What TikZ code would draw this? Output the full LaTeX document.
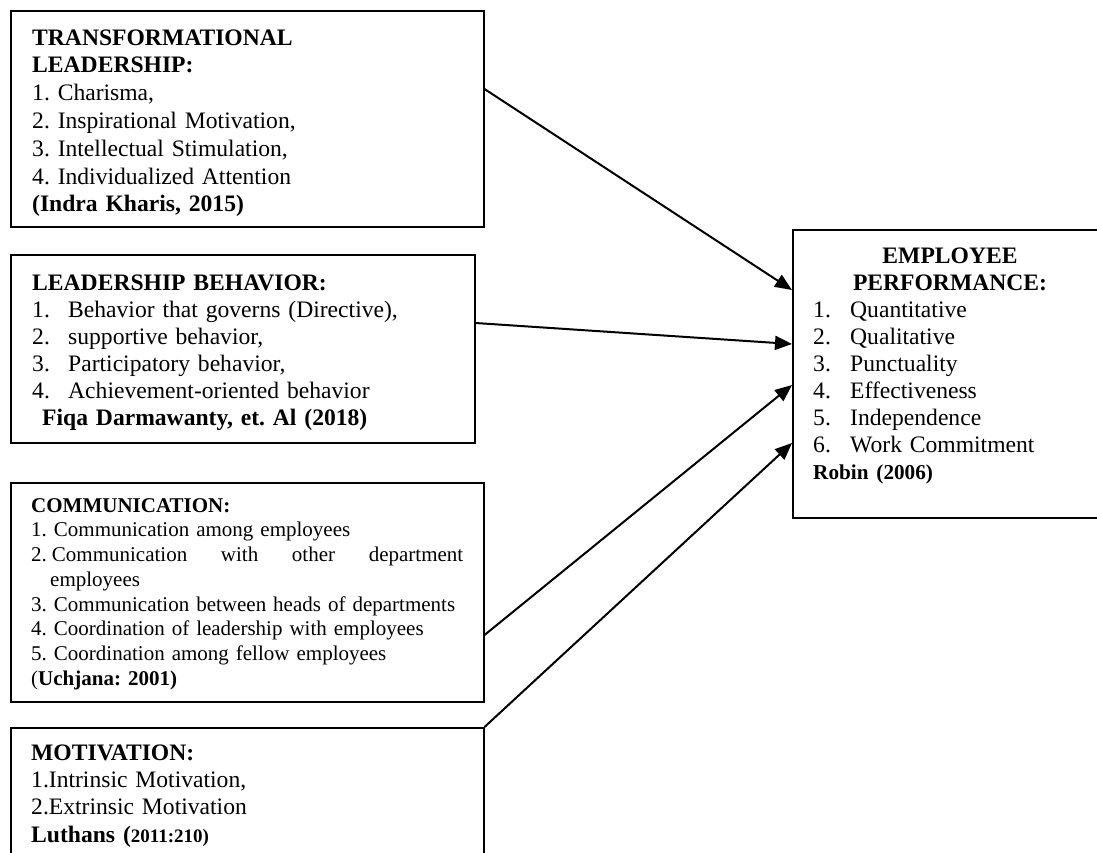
\documentclass[tikz,border=0pt]{standalone}
\usepackage{fontspec}
\setmainfont{Liberation Serif}
\usetikzlibrary{arrows.meta}
\frenchspacing
\begin{document}
\begin{tikzpicture}[x=1pt,y=-1pt,
  box/.style={draw, line width=1.5pt, rectangle, inner sep=0pt, anchor=north west},
  txt/.style={inner sep=0pt, anchor=north west, align=left, text width=445pt},
  arr/.style={line width=2pt, -{Triangle[length=17pt,width=14pt]}}]
\useasboundingbox (0,0) rectangle (1097,852);
\clip (0,0) rectangle (1097,852);
% boxes
\node[box, minimum width=473pt, minimum height=216pt] (b1) at (10,10) {};
\node[box, minimum width=464pt, minimum height=188pt] (b2) at (10,254) {};
\node[box, minimum width=473pt, minimum height=219pt] (b3) at (10,482) {};
\node[box, minimum width=473pt, minimum height=160pt] (b4) at (10,727) {};
\node[box, minimum width=330pt, minimum height=288pt] (b5) at (792,229) {};
% texts
\node[txt, font=\fontsize{23.6}{27.8}\selectfont] (t1) at (32,25.5) {\strut\textbf{TRANSFORMATIONAL}\\
\textbf{LEADERSHIP:}\\
1. Charisma,\\
2. Inspirational Motivation,\\
3. Intellectual Stimulation,\\
4. Individualized Attention\\
\textbf{(Indra Kharis, 2015)}};
\node[txt, font=\fontsize{23.6}{27}\selectfont] (t2) at (32,271.1) {\strut\textbf{LEADERSHIP BEHAVIOR:}\\
\makebox[36pt][l]{1.}Behavior that governs (Directive),\\
\makebox[36pt][l]{2.}supportive behavior,\\
\makebox[36pt][l]{3.}Participatory behavior,\\
\makebox[36pt][l]{4.}Achievement-oriented behavior\\
\hspace*{10pt}\textbf{Fiqa Darmawanty, et. Al (2018)}};
\node[txt, font=\fontsize{21}{24.7}\selectfont] (t3) at (31,494.7) {\strut\textbf{COMMUNICATION:}\\
1. Communication among employees\\
\makebox[432pt][l]{2.\hspace{5pt}Communication\hfill with\hfill other\hfill department}\\
\hspace*{19pt}employees\\
3. Communication between heads of departments\\
4. Coordination of leadership with employees\\
5. Coordination among fellow employees\\
(\textbf{Uchjana: 2001)}};
\node[txt, font=\fontsize{23.6}{27.3}\selectfont] (t4) at (31,740.9) {\strut\textbf{MOTIVATION:}\\
1.Intrinsic Motivation,\\
2.Extrinsic Motivation\\
\textbf{Luthans (}{\bfseries\fontsize{19}{27.3}\selectfont 2011:210)}};
\node[txt, anchor=north, align=center, text width=260pt, font=\bfseries\fontsize{23.6}{27.1}\selectfont] (h5) at (950,244) {\strut EMPLOYEE\\PERFORMANCE:};
\node[txt, text width=260pt, font=\fontsize{23.6}{27.1}\selectfont] (t5) at (813,298.2) {\strut\makebox[37pt][l]{1.}Quantitative\\
\makebox[37pt][l]{2.}Qualitative\\
\makebox[37pt][l]{3.}Punctuality\\
\makebox[37pt][l]{4.}Effectiveness\\
\makebox[37pt][l]{5.}Independence\\
\makebox[37pt][l]{6.}Work Commitment\\
{\bfseries\fontsize{21.2}{27.1}\selectfont Robin (2006)}};
% arrows
\draw[arr] ([yshift=-79pt]b1.north east) -- ([yshift=-61pt]b5.north west);
\draw[arr] ([yshift=-69pt]b2.north east) -- ([yshift=-115pt]b5.north west);
\draw[arr] ([yshift=-153pt]b3.north east) -- ([yshift=-156pt]b5.north west);
\draw[arr] (b4.north east) -- ([yshift=-214pt]b5.north west);
\end{tikzpicture}
\end{document}
